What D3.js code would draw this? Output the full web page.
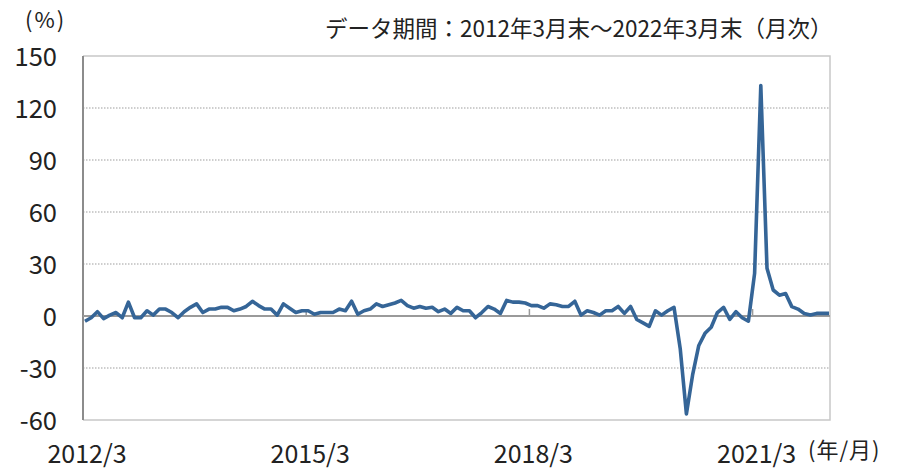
<!DOCTYPE html>
<html>
<head>
<meta charset="utf-8">
<script src="https://cdn.jsdelivr.net/npm/d3@7"></script>
<style>
  body { margin: 0; background: #fff; }
  text { font-family: "Noto Sans CJK JP", "Noto Sans", sans-serif; fill: #222; }
</style>
</head>
<body>
<svg id="chart"></svg>
<script>
// monthly values (%), 2012/3 .. 2022/3
const values = [
  -3, -1, 2.5, -1.5, 0.5, 2, -1, 8, -1, -1,
  3, 0.5, 4, 4, 2, -1, 2.5, 5, 7, 2,
  4, 4, 5, 5, 3, 4, 5.5, 8.5, 6, 4,
  4, 0.5, 7, 4.5, 2, 3, 3, 1, 2, 2,
  2, 4, 3, 8.5, 1, 3, 4, 7, 5.5, 6.5,
  7.5, 9, 6, 4.5, 5.5, 4.5, 5, 2.5, 4, 1.5,
  5, 3, 3, -1, 2, 5.5, 4, 1.5, 9, 8,
  8, 7.5, 6, 6, 4.5, 7, 6.5, 5.5, 5.5, 8.5,
  0.5, 3, 2, 0.5, 3, 3, 5.5, 1.5, 5.5, -2,
  -4, -6, 3, 0.5, 3, 5, -18.7, -56.5, -34, -17,
  -10, -6.5, 2, 5, -2, 2.5, -1, -3, 24.6, 133,
  27.5, 15, 12, 13, 5.4, 4, 1.5, 0.6, 1.5, 1.5,
  1.5
];
const yTicks = [-60, -30, 0, 30, 60, 90, 120, 150];
const xTickIdx = [0, 36, 72, 108];
const xTickLabels = ["2012/3", "2015/3", "2018/3", "2021/3"];
const title = "データ期間：2012年3月末～2022年3月末（月次）";

const W = 904, H = 470;
const pLeft = 83, pRight = 830, pTop = 56, pBottom = 420;

const svg = d3.select("#chart").attr("width", W).attr("height", H);

const x = d3.scaleLinear().domain([0, values.length - 1]).range([85, 829]);
const y = d3.scaleLinear().domain([-60, 150]).range([pBottom, pTop]);

// gridlines
svg.append("g")
  .selectAll("line")
  .data(yTicks.filter(d => d !== 0 && d !== -60 && d !== 150))
  .join("line")
  .attr("x1", pLeft).attr("x2", pRight)
  .attr("y1", d => y(d)).attr("y2", d => y(d))
  .style("stroke", "#bfbfbf")
  .style("stroke-width", 1.5)
  .style("stroke-dasharray", "1.5,1.5");

// plot border (top, right, bottom)
svg.append("path")
  .attr("d", `M${pLeft},${pTop}H${pRight}V${pBottom}H${pLeft}`)
  .style("fill", "none")
  .style("stroke", "#c8c8c8")
  .style("stroke-width", 1.5);

// left axis line
svg.append("line")
  .attr("x1", pLeft).attr("x2", pLeft)
  .attr("y1", pTop).attr("y2", pBottom)
  .style("stroke", "#8c8c8c")
  .style("stroke-width", 2);

// zero line + ticks
svg.append("line")
  .attr("x1", pLeft).attr("x2", pRight)
  .attr("y1", y(0)).attr("y2", y(0))
  .style("stroke", "#9a9a9a")
  .style("stroke-width", 2);

svg.append("g")
  .selectAll("line")
  .data(xTickIdx.slice(1))
  .join("line")
  .attr("x1", d => x(d) - 2).attr("x2", d => x(d) - 2)
  .attr("y1", y(0) - 7).attr("y2", y(0))
  .style("stroke", "#9a9a9a")
  .style("stroke-width", 1.5);

// y labels
svg.append("g")
  .selectAll("text")
  .data(yTicks)
  .join("text")
  .attr("x", 57)
  .attr("y", d => y(d) + 10)
  .attr("text-anchor", "end")
  .style("font-size", "25.5px")
  .text(d => d);

// x labels
svg.append("g")
  .selectAll("text")
  .data(xTickIdx)
  .join("text")
  .attr("x", d => x(d) + 2)
  .attr("y", 462.5)
  .attr("text-anchor", "middle")
  .style("font-size", "25px")
  .text((d, i) => xTickLabels[i]);

svg.append("text")
  .attr("x", 25).attr("y", 28)
  .style("font-size", "22px")
  .style("letter-spacing", "2px")
  .text("(%)");

svg.append("text")
  .attr("x", 808).attr("y", 458)
  .style("font-size", "22px")
  .style("letter-spacing", "1px")
  .text("(年/月)");

svg.append("text")
  .attr("x", 325).attr("y", 37)
  .style("font-size", "22.5px")
  .text(title);

// series line
const line = d3.line()
  .x((d, i) => x(i))
  .y(d => y(d));

svg.append("path")
  .datum(values)
  .attr("d", line)
  .style("fill", "none")
  .style("stroke", "#356597")
  .style("stroke-width", 3.6)
  .style("stroke-linejoin", "round");
</script>
</body>
</html>
